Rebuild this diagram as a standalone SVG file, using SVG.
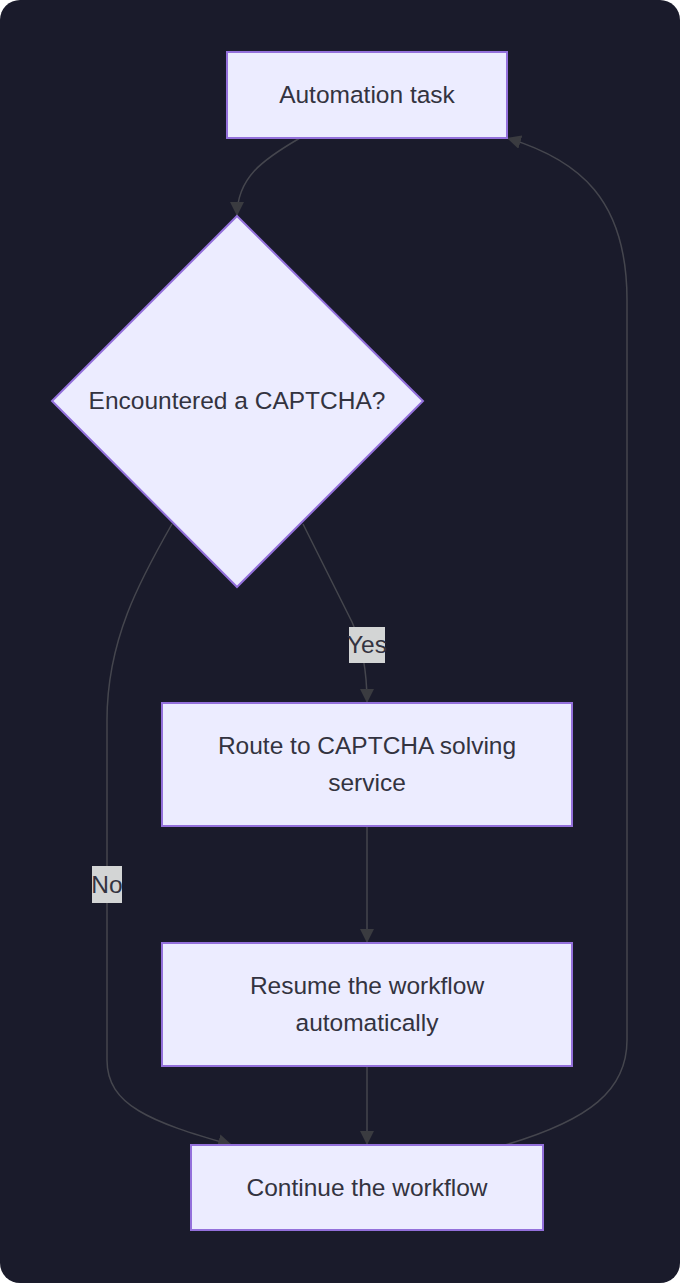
<svg xmlns="http://www.w3.org/2000/svg" width="680" height="1283" viewBox="0 0 680 1283">
<style>
.node rect,.node polygon{fill:#ECECFF;stroke:#9370DB;stroke-width:2}
.lbl{font-family:"Liberation Sans",Arial,sans-serif;font-size:24.5px;fill:#333340;text-anchor:middle}
.edge{fill:none;stroke:#45464e;stroke-width:1.5}
.elbl rect{fill:#d3d5d5}
</style>
<defs>
<marker id="arr" markerUnits="userSpaceOnUse" markerWidth="14" markerHeight="14" viewBox="0 0 12 12" refX="12" refY="6" orient="auto">
<path d="M0,0 L12,6 L0,12 z" fill="#3a3b40"/>
</marker>
</defs>
<rect x="0" y="0" width="680" height="1283" fill="#ffffff"/>
<rect x="0" y="0" width="680" height="1283" rx="20" ry="20" fill="#1a1b2b"/>
<g id="connectors">
<path class="edge" d="M300,138 C262,160 237,178 237,216" marker-end="url(#arr)"/>
<path class="edge" d="M303,524 L352,622 Q367,655 367,703" marker-end="url(#arr)"/>
<path class="edge" d="M172,524 C140,580 107,640 107,720 L107,1060 C107,1105 150,1122 232,1145" marker-end="url(#arr)"/>
<path class="edge" d="M367,826 L367,943" marker-end="url(#arr)"/>
<path class="edge" d="M367,1066 L367,1145" marker-end="url(#arr)"/>
<path class="edge" d="M505,1145 C590,1120 627,1090 627,1040 L627,300 C627,200 580,160 507,138" marker-end="url(#arr)"/>
<g class="elbl" id="label-yes"><rect x="349" y="627" width="36" height="36"/><text class="lbl" x="367" y="653">Yes</text></g>
<g class="elbl" id="label-no"><rect x="92" y="866" width="30" height="37"/><text class="lbl" x="107" y="893">No</text></g>
</g>
<g id="node-automation" class="node"><rect x="227" y="52" width="280" height="86"/><text class="lbl" x="367" y="103">Automation task</text></g>
<g id="node-captcha" class="node"><polygon points="237,216 423,401 237,587 52,401"/><text class="lbl" x="237" y="409">Encountered a CAPTCHA?</text></g>
<g id="node-route" class="node"><rect x="162" y="703" width="410" height="123"/><text class="lbl" x="367" y="754">Route to CAPTCHA solving</text><text class="lbl" x="367" y="791">service</text></g>
<g id="node-resume" class="node"><rect x="162" y="943" width="410" height="123"/><text class="lbl" x="367" y="994">Resume the workflow</text><text class="lbl" x="367" y="1031">automatically</text></g>
<g id="node-continue" class="node"><rect x="191" y="1145" width="352" height="85"/><text class="lbl" x="367" y="1196">Continue the workflow</text></g>
</svg>
